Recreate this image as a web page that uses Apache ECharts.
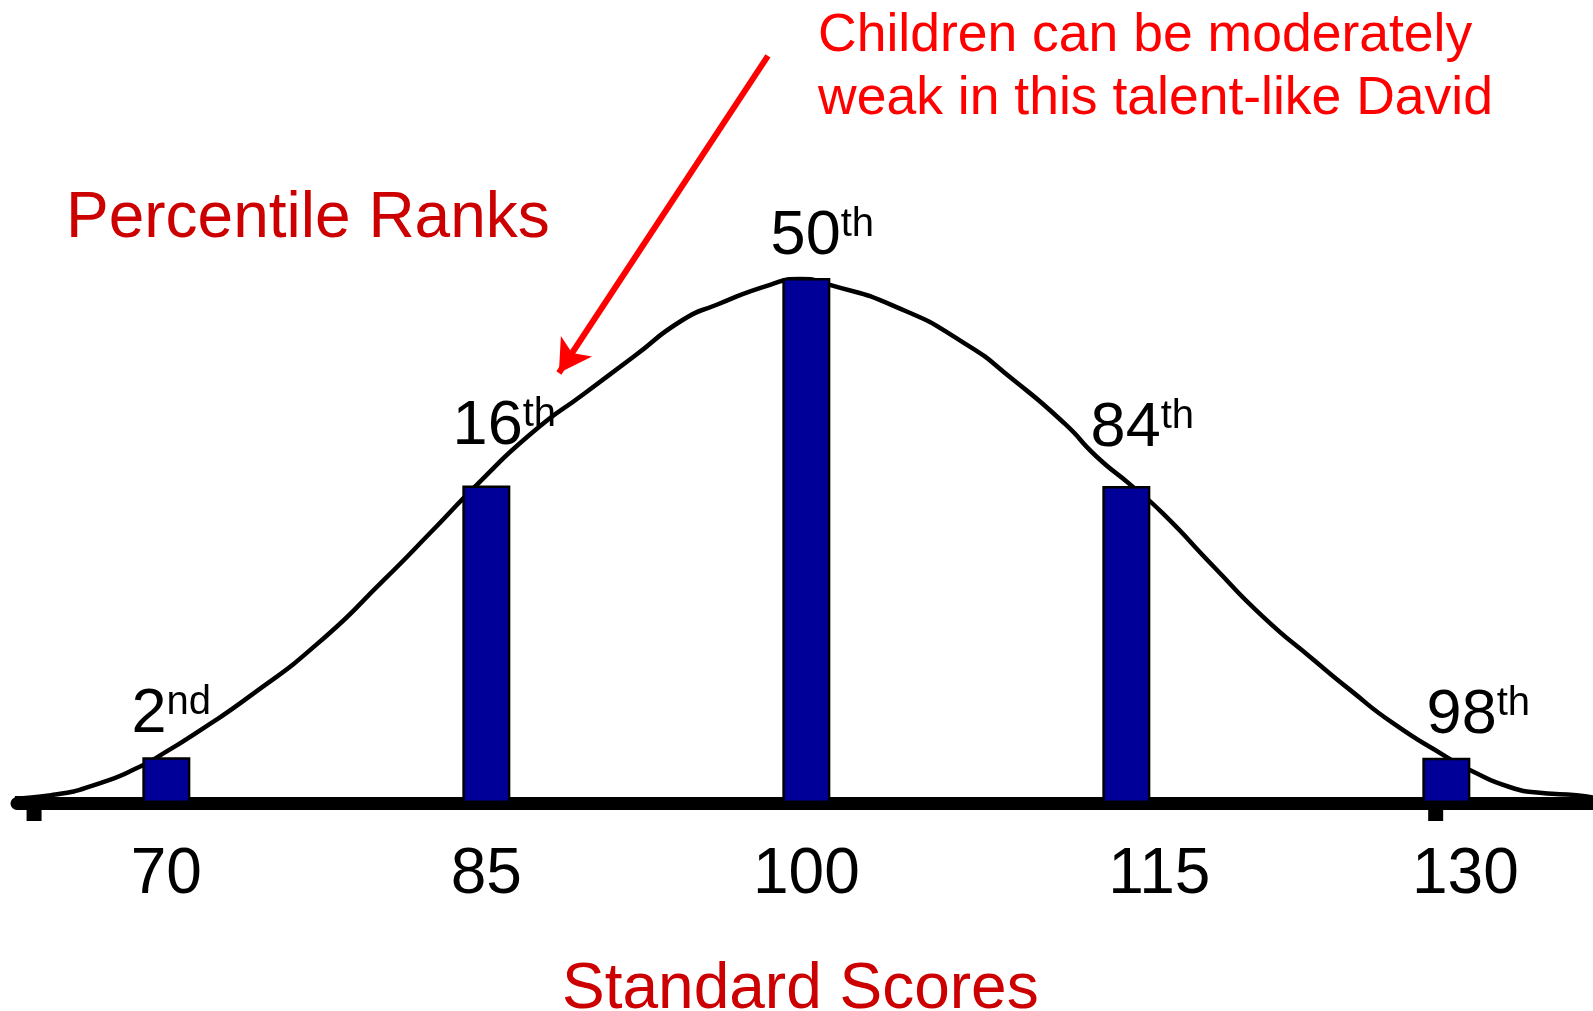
<!DOCTYPE html>
<html>
<head>
<meta charset="utf-8">
<title>Percentile Ranks</title>
<script src="https://cdn.jsdelivr.net/npm/echarts@6/dist/echarts.min.js"></script>
<style>
html, body { margin: 0; padding: 0; background: #fff; }
#main { width: 1593px; height: 1011px; }
</style>
</head>
<body>
<div id="main"></div>
<script>
// scores that get a bar, and how tall each bar is
var scores = [70, 85, 100, 115, 130];
var barHeights = [8.7, 60.5, 100, 60.4, 8.6];
var rankNums = ['2', '16', '50', '84', '98'];
var rankSuffix = ['nd', 'th', 'th', 'th', 'th'];

// bell curve
var curveX = [62.9, 64.6, 66.9, 68.9, 69.6, 71.6, 73.9, 77.1, 80.2, 82.5, 84.6, 87.2, 89.6,
    91.9, 94.2, 95.8, 98.3, 99.7, 101.1, 104.2, 107.4, 109.7, 112.1, 113.6, 115.2, 116.7,
    119.1, 121.4, 123.8, 125.5, 127.5, 130.0, 131.1, 133.0, 134.5, 136.1, 136.9];
var curveY = [0.9, 1.5, 3.8, 7.2, 8.8, 13.9, 20.3, 30.4, 42.5, 52.0, 60.8, 70.7, 78.0,
    85.0, 92.0, 94.9, 98.7, 99.8, 98.7, 94.5, 87.6, 80.6, 72.3, 66.0, 60.6, 55.2,
    45.0, 35.5, 27.2, 21.5, 15.2, 8.8, 6.3, 3.0, 1.9, 1.5, 1.0];

// two little stubs hanging under the axis
var stubX = [63.8, 129.5];

// red arrow, from the note down to the left slope
var arrowFrom = [98.2, 142.3];
var arrowTo = [88.4, 81.9];

var font = '"Liberation Sans", Arial, sans-serif';
var labelShift = [[5, -11], [18, -27], [16, -10], [16, -26], [32, -11]];

var curveData = [];
for (var i = 0; i < curveX.length; i++) {
    curveData.push([curveX[i], curveY[i]]);
}

var barData = [];
for (var i = 0; i < scores.length; i++) {
    barData.push({
        value: [scores[i], barHeights[i]],
        label: { offset: labelShift[i] }
    });
}

var stubData = [];
for (var i = 0; i < stubX.length; i++) {
    stubData.push([stubX[i], 0]);
}

var myChart = echarts.init(document.getElementById('main'));
var option = {
    animation: false,
    textStyle: { fontFamily: font },
    title: [
        {
            text: 'Percentile Ranks',
            left: 66,
            top: 187,
            padding: 0,
            textStyle: { fontFamily: font, fontSize: 64, fontWeight: 'normal', color: '#CC0000' }
        },
        {
            text: 'Children can be moderately\nweak in this talent-like David',
            left: 818,
            top: 5,
            padding: 0,
            textStyle: { fontFamily: font, fontSize: 53.5, lineHeight: 63, fontWeight: 'normal', color: '#FF0000' }
        }
    ],
    grid: {
        left: 17,
        top: 15.5,
        width: 1578.67,
        height: 787.5,
        outerBoundsMode: 'none'
    },
    xAxis: {
        type: 'value',
        min: 63,
        max: 137,
        name: 'Standard Scores',
        nameLocation: 'middle',
        nameGap: 155,
        nameTextStyle: { fontFamily: font, fontSize: 64, color: '#CC0000', padding: [0, 12, 0, 0] },
        axisLine: { show: true, lineStyle: { color: '#000', width: 13, cap: 'round' } },
        axisTick: { show: false },
        splitLine: { show: false },
        axisLabel: {
            customValues: scores,
            margin: 40,
            fontSize: 64,
            color: '#000',
            formatter: function (v) {
                if (v === 115) return '{a|115}';
                if (v === 130) return '{b|130}';
                return v + '';
            },
            rich: {
                a: { fontFamily: font, fontSize: 64, color: '#000', padding: [0, 0, 0, 66] },
                b: { fontFamily: font, fontSize: 64, color: '#000', padding: [0, 0, 0, 38] }
            }
        }
    },
    yAxis: {
        type: 'value',
        min: 0,
        max: 150,
        show: false
    },
    series: [
        {
            name: 'curve',
            type: 'line',
            z: 1,
            data: curveData,
            smooth: 0.6,
            showSymbol: false,
            silent: true,
            lineStyle: { color: '#000', width: 4.5 },
            markLine: {
                silent: true,
                symbol: ['none', 'arrow'],
                symbolSize: [28, 32],
                label: { show: false },
                lineStyle: { color: '#FF0000', width: 6, type: 'solid' },
                emphasis: { disabled: true },
                data: [[{ coord: arrowFrom }, { coord: arrowTo }]]
            }
        },
        {
            name: 'stubs',
            type: 'scatter',
            z: 1,
            data: stubData,
            symbol: 'rect',
            symbolSize: [15, 12],
            symbolOffset: [0, 12],
            silent: true,
            itemStyle: { color: '#000', opacity: 1 }
        },
        {
            name: 'ranks',
            type: 'bar',
            z: 3,
            barWidth: 48,
            data: barData,
            itemStyle: { color: '#000099', borderColor: '#000', borderWidth: 2.5 },
            label: {
                show: true,
                position: 'top',
                distance: 0,
                formatter: function (p) {
                    return '{n|' + rankNums[p.dataIndex] + '}{s|' + rankSuffix[p.dataIndex] + '}';
                },
                rich: {
                    n: { fontFamily: font, fontSize: 63, lineHeight: 63, color: '#000', verticalAlign: 'bottom' },
                    s: { fontFamily: font, fontSize: 40, lineHeight: 40, color: '#000', verticalAlign: 'top' }
                }
            }
        }
    ]
};

if (option && typeof option === 'object') {
    myChart.setOption(option, true);
}
</script>
</body>
</html>
